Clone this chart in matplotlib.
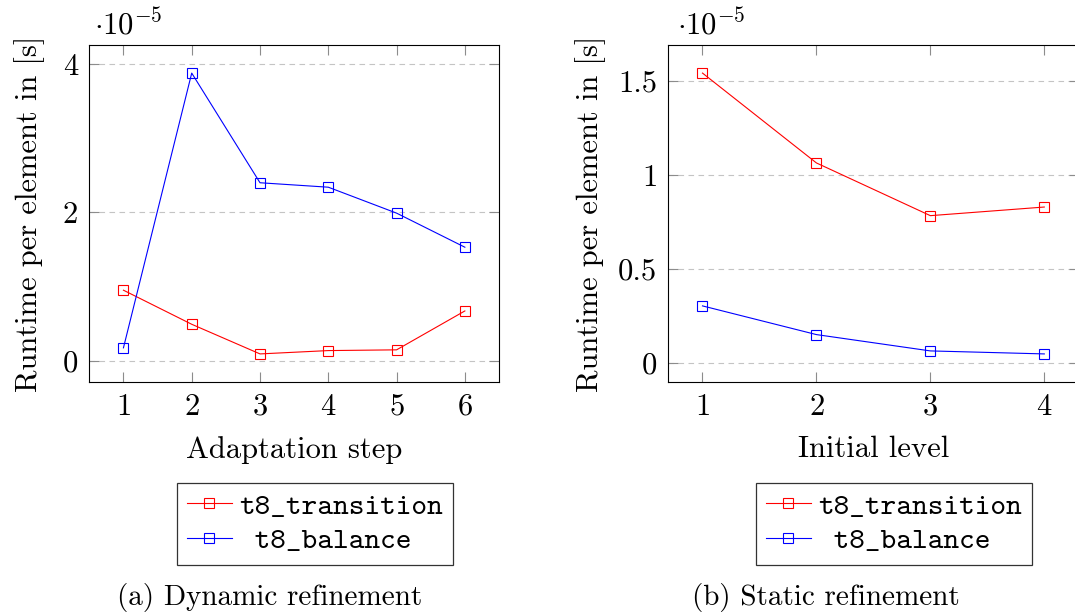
import matplotlib
matplotlib.use("Agg")
import matplotlib.pyplot as plt
from matplotlib.ticker import FuncFormatter, FixedLocator

plt.rcParams["font.family"] = ["cmr10", "DejaVu Serif"]
plt.rcParams["mathtext.fontset"] = "cm"
plt.rcParams["axes.formatter.use_mathtext"] = True

# Dynamic refinement: runtime per element [s] over adaptation steps
dyn_steps = [1, 2, 3, 4, 5, 6]
dyn_transition = [0.95e-5, 0.49e-5, 0.09e-5, 0.135e-5, 0.145e-5, 0.67e-5]
dyn_balance = [0.172e-5, 3.88e-5, 2.40e-5, 2.34e-5, 1.99e-5, 1.53e-5]

# Static refinement: runtime per element [s] over initial levels
sta_levels = [1, 2, 3, 4]
sta_transition = [1.543e-5, 1.064e-5, 0.783e-5, 0.829e-5]
sta_balance = [0.302e-5, 0.149e-5, 0.062e-5, 0.046e-5]

dyn_yticks = [0, 2e-5, 4e-5]
sta_yticks = [0, 0.5e-5, 1.0e-5, 1.5e-5]

series_labels = ["t8_transition", " t8_balance"]
series_colors = ["#ff0000", "#0000ff"]
xlabels = ["Adaptation step", "Initial level"]
captions = ["(a) Dynamic refinement", "(b) Static refinement"]

FS = 22
LEG_FS = 21.5
CAP_FS = 21
W, H = 1075, 614
fig = plt.figure(figsize=(W / 100, H / 100), dpi=100)


def px_rect(x0, x1, y0, y1):
    return [x0 / W, 1 - y1 / H, (x1 - x0) / W, (y1 - y0) / H]


ax1 = fig.add_axes(px_rect(89.3, 499.0, 45, 382))
ax2 = fig.add_axes(px_rect(668.3, 1078.5, 45, 382))


def fmt(v, pos):
    return f"{v / 1e-5:g}"


def style(ax, xs, ys_list, yticks, xlabel, offset_x, ylabelpad):
    for ys, c, lab in zip(ys_list, series_colors, series_labels):
        ax.plot(xs, ys, color=c, lw=0.8, marker="s", ms=7.2,
                mfc="none", mec=c, mew=0.8, label=lab, zorder=3)
    lo = min(min(y) for y in ys_list)
    hi = max(max(y) for y in ys_list)
    pad = 0.1 * (hi - lo)
    ax.set_ylim(lo - pad, hi + pad)
    xpad = 0.1 * (xs[-1] - xs[0])
    ax.set_xlim(xs[0] - xpad, xs[-1] + xpad)
    ax.xaxis.set_major_locator(FixedLocator(xs))
    ax.yaxis.set_major_locator(FixedLocator(yticks))
    ax.yaxis.set_major_formatter(FuncFormatter(fmt))
    ax.tick_params(direction="in", length=7.5, width=0.8, color="#8c8c8c",
                   top=True, right=True, labelsize=FS, pad=8)
    ax.yaxis.grid(True, color="#c4c4c4", lw=0.8, ls=(0, (5, 4)))
    ax.set_axisbelow(True)
    for sp in ax.spines.values():
        sp.set_linewidth(0.8)
        sp.set_color("black")
    ax.set_xlabel(xlabel, fontsize=FS, labelpad=11)
    ax.set_ylabel("Runtime per element in [s]", fontsize=FS, labelpad=ylabelpad)
    ax.text(offset_x, 1.03, r"$\cdot10^{-5}$", transform=ax.transAxes,
            fontsize=FS, ha="left", va="baseline")


style(ax1, dyn_steps, [dyn_transition, dyn_balance], dyn_yticks, xlabels[0], 0.012, 12.5)
style(ax2, sta_levels, [sta_transition, sta_balance], sta_yticks, xlabels[1], 0.022, 9)

for ax, cx in [(ax1, 315), (ax2, 894)]:
    h, l = ax.get_legend_handles_labels()
    leg = fig.legend(h, l, loc="upper center", bbox_to_anchor=(cx / W, 1 - 483 / H),
                     prop={"family": "cmtt10", "size": LEG_FS}, frameon=True,
                     fancybox=False, edgecolor="#333333", framealpha=1,
                     handlelength=1.5, handletextpad=0.25, borderpad=0.33,
                     labelspacing=0.22, numpoints=1, borderaxespad=0)
    leg.get_frame().set_linewidth(0.9)

fig.text(270 / W, 1 - 597 / H, captions[0], fontsize=CAP_FS, ha="center", va="center")
fig.text(826 / W, 1 - 597 / H, captions[1], fontsize=CAP_FS, ha="center", va="center")

fig.savefig("out.png", dpi=100)
